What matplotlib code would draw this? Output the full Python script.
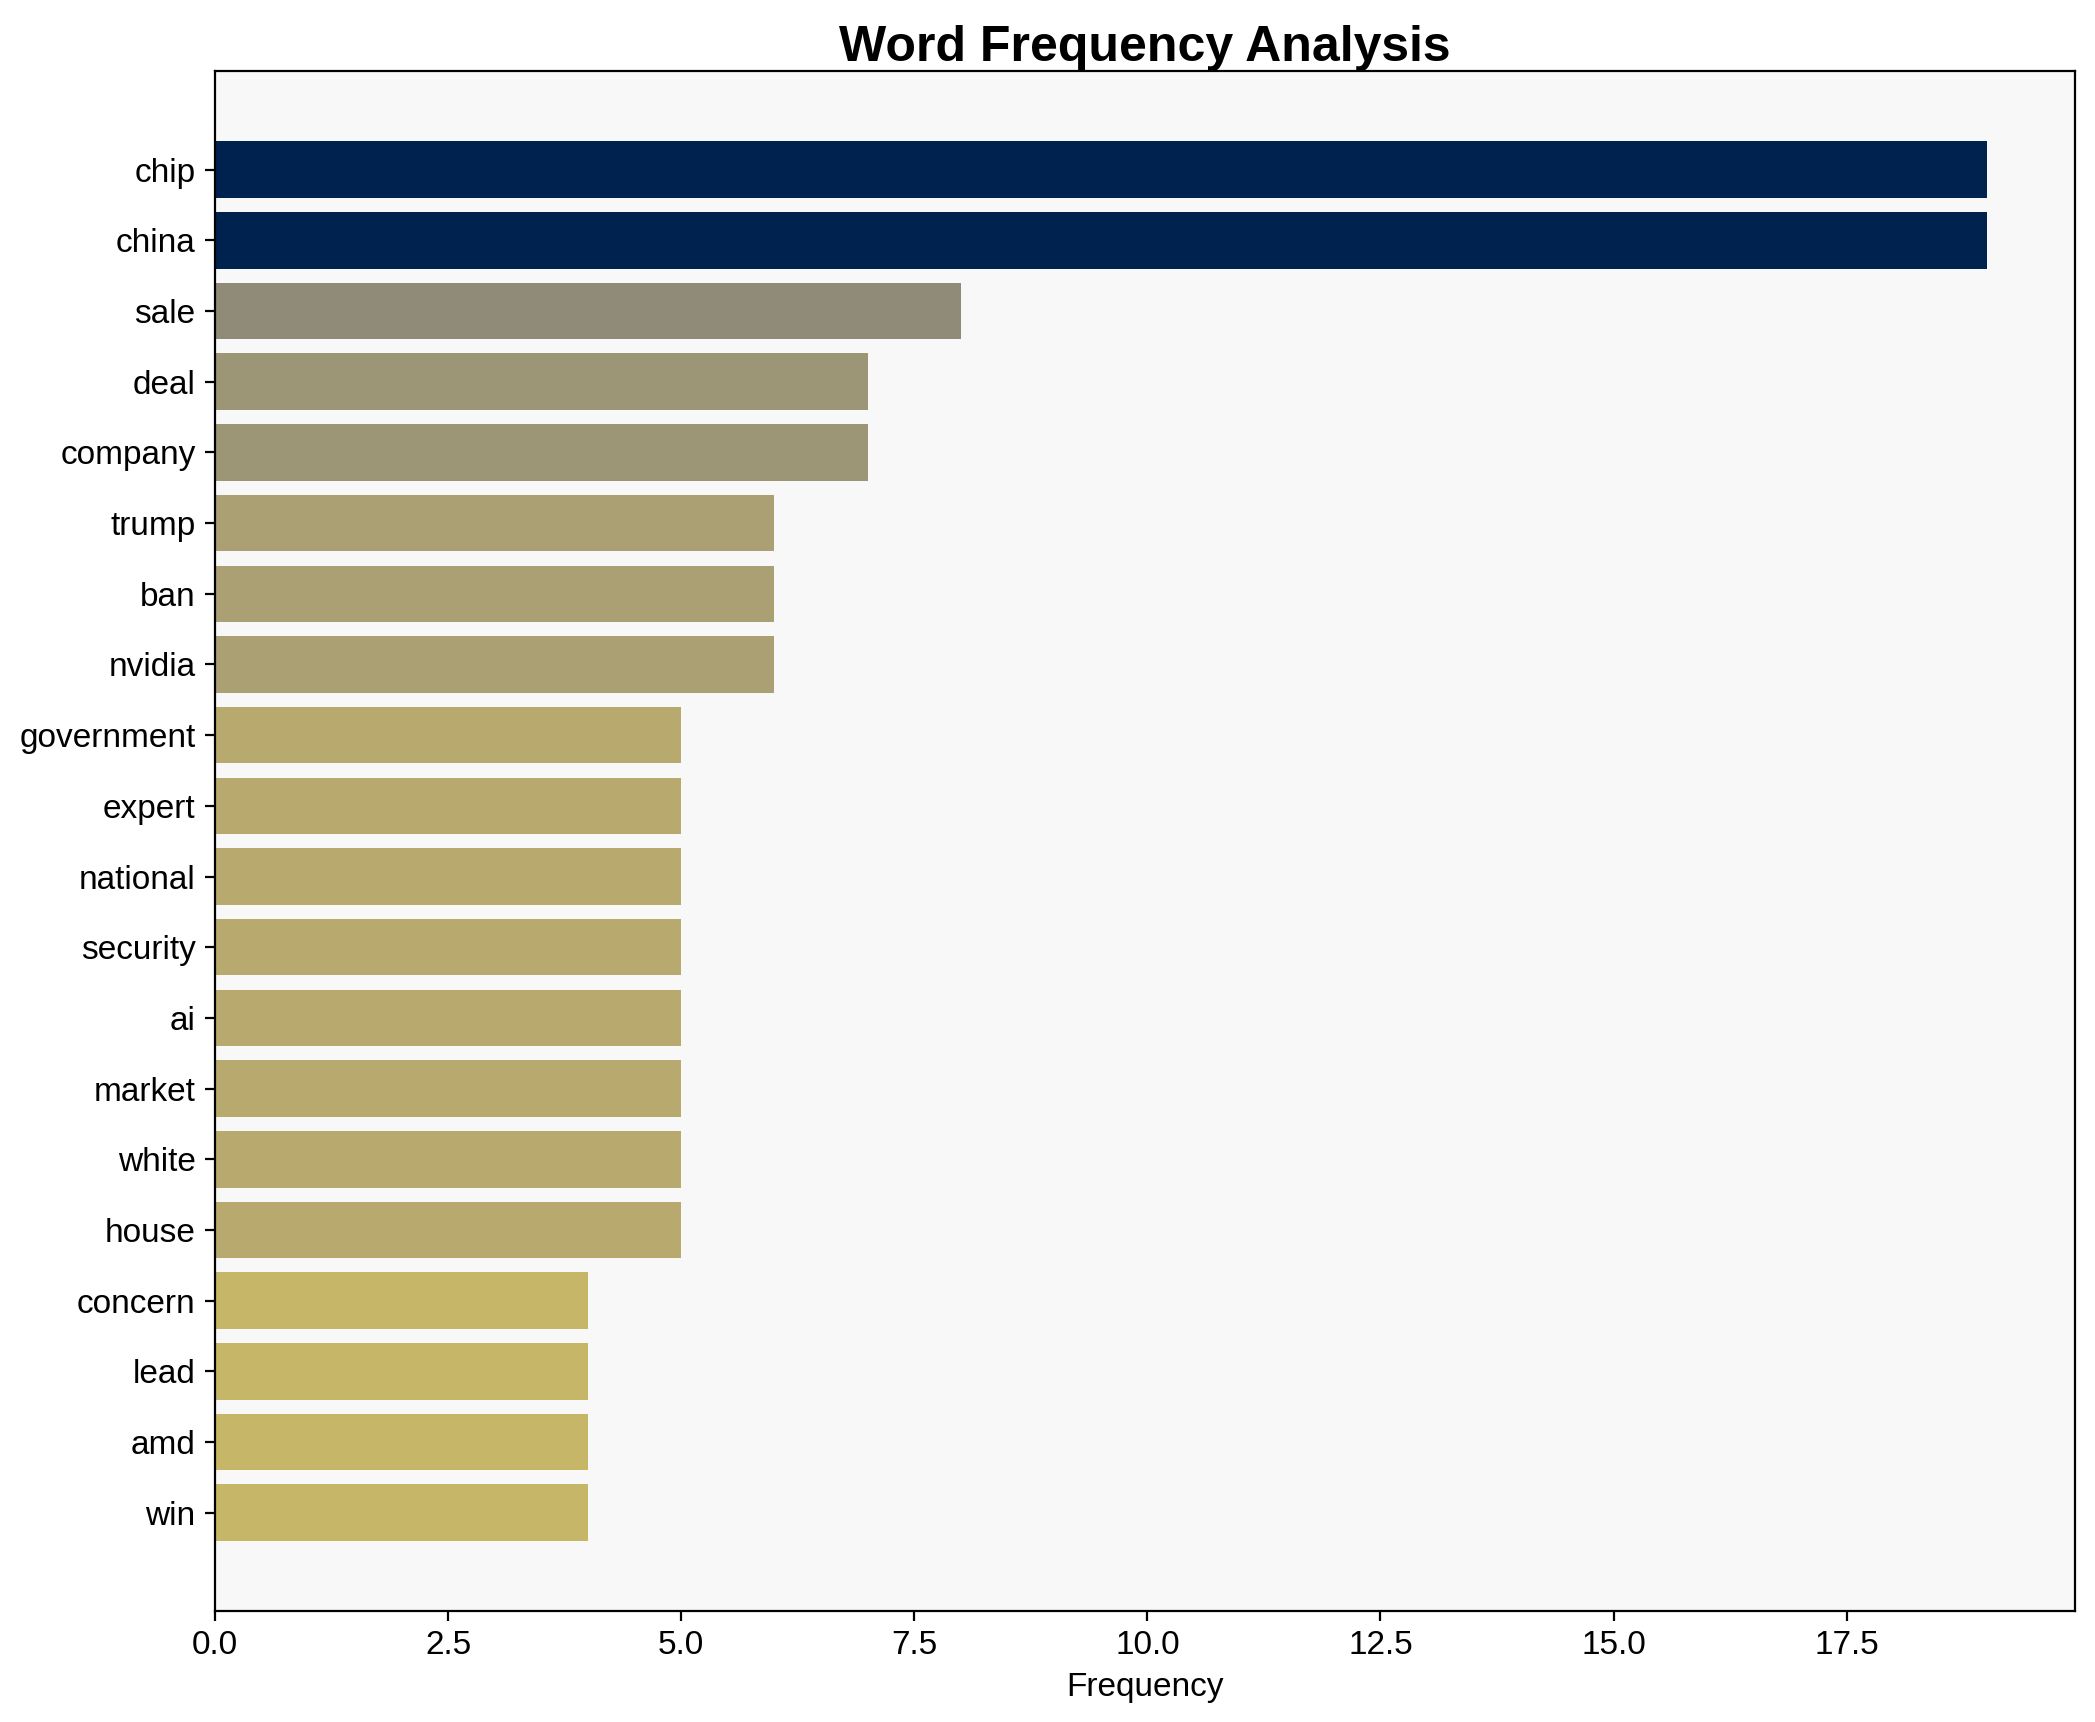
import matplotlib
matplotlib.use("Agg")
import matplotlib.pyplot as plt
import numpy as np

WORDS = [
    "chip", "china", "sale", "deal", "company", "trump", "ban", "nvidia",
    "government", "expert", "national", "security", "ai", "market",
    "white", "house", "concern", "lead", "amd", "win",
]
COUNTS = [19, 19, 8, 7, 7, 6, 6, 6, 5, 5, 5, 5, 5, 5, 5, 5, 4, 4, 4, 4]

plt.rcParams["font.family"] = ["Liberation Sans", "DejaVu Sans"]


def main():
    fig, ax = plt.subplots(figsize=(2095 / 200, 1722 / 200), dpi=200)
    ax.set_facecolor("#f8f8f8")

    counts = np.array(COUNTS)
    colors = plt.cm.cividis(1 - counts / counts.max())
    y = np.arange(len(WORDS))
    ax.barh(y, counts, height=0.8, color=colors)
    ax.set_yticks(y)
    ax.set_yticklabels(WORDS, fontsize=12)
    ax.invert_yaxis()
    ax.tick_params(axis="x", labelsize=12)
    ax.set_xlabel("Frequency", fontsize=12)
    ax.set_title("Word Frequency Analysis", fontsize=18, fontweight="bold", pad=3)

    fig.subplots_adjust(left=0.1026, right=0.9905, top=0.9585, bottom=0.0645)
    fig.savefig("out.png", dpi=200)
    plt.close(fig)


if __name__ == "__main__":
    main()
